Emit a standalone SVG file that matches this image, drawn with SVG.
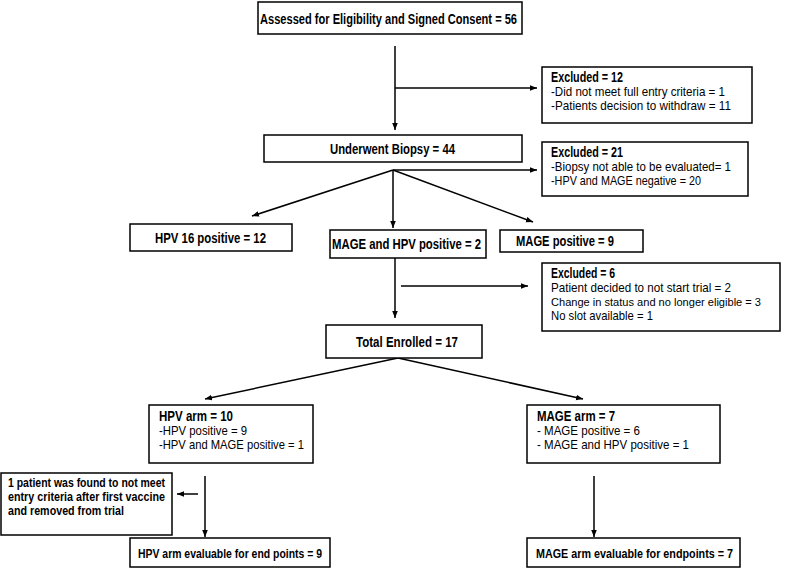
<svg xmlns="http://www.w3.org/2000/svg" width="787" height="570" viewBox="0 0 787 570">
<defs>
<style>
.box{fill:#fff;stroke:#000;stroke-width:1.5}
.t{font-family:"Liberation Sans Narrow","Liberation Sans",Arial,sans-serif;font-size:13.5px;fill:#000}
.b{font-weight:bold}
.h{font-size:14.5px}
.s{font-size:11.5px}
.ln{stroke:#000;stroke-width:1.5;fill:none}
</style>
<marker id="ah" viewBox="0 0 10 10" refX="10" refY="5" markerWidth="7" markerHeight="7" orient="auto" markerUnits="userSpaceOnUse">
<path d="M0,1 L10,5 L0,9 Z" fill="#000"/>
</marker>
</defs>
<rect width="787" height="570" fill="#fff"/>
<g id="connectors">
<line class="ln" x1="395" y1="46" x2="395" y2="130" marker-end="url(#ah)"/>
<line class="ln" x1="395" y1="88" x2="537" y2="88" marker-end="url(#ah)"/>
<line class="ln" x1="393" y1="170" x2="537" y2="170" marker-end="url(#ah)"/>
<line class="ln" x1="393" y1="170" x2="252" y2="216" marker-end="url(#ah)"/>
<line class="ln" x1="393" y1="170" x2="393" y2="228" marker-end="url(#ah)"/>
<line class="ln" x1="393" y1="170" x2="533" y2="222" marker-end="url(#ah)"/>
<line class="ln" x1="395" y1="258" x2="395" y2="318" marker-end="url(#ah)"/>
<line class="ln" x1="401" y1="286" x2="528" y2="286" marker-end="url(#ah)"/>
<line class="ln" x1="398" y1="358" x2="205" y2="399" marker-end="url(#ah)"/>
<line class="ln" x1="398" y1="358" x2="583" y2="399" marker-end="url(#ah)"/>
<line class="ln" x1="205" y1="476" x2="205" y2="537" marker-end="url(#ah)"/>
<line class="ln" x1="198" y1="494" x2="177" y2="494" marker-end="url(#ah)"/>
<line class="ln" x1="594" y1="476" x2="594" y2="537" marker-end="url(#ah)"/>
</g>
<g id="assessed">
<rect class="box" x="258" y="2" width="264" height="32"/>
<text class="t b h" x="260" y="24" textLength="257" lengthAdjust="spacingAndGlyphs">Assessed for Eligibility and Signed Consent = 56</text>
</g>
<g id="excluded12">
<rect class="box" x="542" y="67" width="210" height="56"/>
<text class="t b h" x="551" y="82" textLength="72" lengthAdjust="spacingAndGlyphs">Excluded = 12</text>
<text class="t" x="551" y="96" textLength="174" lengthAdjust="spacingAndGlyphs">-Did not meet full entry criteria = 1</text>
<text class="t" x="551" y="110" textLength="180" lengthAdjust="spacingAndGlyphs">-Patients decision to withdraw = 11</text>
</g>
<g id="biopsy">
<rect class="box" x="264" y="135" width="258" height="27"/>
<text class="t b h" x="330" y="154" textLength="125" lengthAdjust="spacingAndGlyphs">Underwent Biopsy = 44</text>
</g>
<g id="excluded21">
<rect class="box" x="542" y="142" width="206" height="54"/>
<text class="t b h" x="551" y="157" textLength="72" lengthAdjust="spacingAndGlyphs">Excluded = 21</text>
<text class="t" x="551" y="171" textLength="180" lengthAdjust="spacingAndGlyphs">-Biopsy not able to be evaluated= 1</text>
<text class="t" x="551" y="185" textLength="150" lengthAdjust="spacingAndGlyphs">-HPV and MAGE negative = 20</text>
</g>
<g id="hpv16">
<rect class="box" x="130" y="224" width="162" height="27"/>
<text class="t b h" x="155" y="243" textLength="111" lengthAdjust="spacingAndGlyphs">HPV 16 positive = 12</text>
</g>
<g id="mageandhpv">
<rect class="box" x="330" y="230" width="156" height="28"/>
<text class="t b h" x="332" y="249" textLength="149" lengthAdjust="spacingAndGlyphs">MAGE and HPV positive = 2</text>
</g>
<g id="magepos">
<rect class="box" x="500" y="230" width="143" height="22"/>
<text class="t b h" x="516" y="246" textLength="98" lengthAdjust="spacingAndGlyphs">MAGE positive = 9</text>
</g>
<g id="excluded6">
<rect class="box" x="542" y="263" width="238" height="68"/>
<text class="t b h" x="551" y="278" textLength="64" lengthAdjust="spacingAndGlyphs">Excluded = 6</text>
<text class="t" x="551" y="292" textLength="180" lengthAdjust="spacingAndGlyphs">Patient decided to not start trial = 2</text>
<text class="t s" x="551" y="306" textLength="210" lengthAdjust="spacingAndGlyphs">Change in status and no longer eligible = 3</text>
<text class="t" x="551" y="320" textLength="102" lengthAdjust="spacingAndGlyphs">No slot available = 1</text>
</g>
<g id="enrolled">
<rect class="box" x="326" y="325" width="156" height="33"/>
<text class="t b h" x="356" y="347" textLength="102" lengthAdjust="spacingAndGlyphs">Total Enrolled = 17</text>
</g>
<g id="hpvarm">
<rect class="box" x="149" y="405" width="164" height="58"/>
<text class="t b h" x="159" y="421" textLength="74" lengthAdjust="spacingAndGlyphs">HPV arm = 10</text>
<text class="t" x="159" y="435" textLength="88" lengthAdjust="spacingAndGlyphs">-HPV positive = 9</text>
<text class="t" x="159" y="449" textLength="145" lengthAdjust="spacingAndGlyphs">-HPV and MAGE positive = 1</text>
</g>
<g id="magearm">
<rect class="box" x="527" y="405" width="193" height="58"/>
<text class="t b h" x="537" y="421" textLength="78" lengthAdjust="spacingAndGlyphs">MAGE arm = 7</text>
<text class="t" x="537" y="435" textLength="103" lengthAdjust="spacingAndGlyphs">- MAGE positive = 6</text>
<text class="t" x="537" y="449" textLength="152" lengthAdjust="spacingAndGlyphs">- MAGE and HPV positive = 1</text>
</g>
<g id="removed">
<rect class="box" x="1" y="473" width="171" height="62"/>
<text class="t b" x="8" y="487" textLength="157" lengthAdjust="spacingAndGlyphs">1 patient was found to not meet</text>
<text class="t b" x="8" y="501" textLength="157" lengthAdjust="spacingAndGlyphs">entry criteria after first vaccine</text>
<text class="t b" x="8" y="515" textLength="116" lengthAdjust="spacingAndGlyphs">and removed from trial</text>
</g>
<g id="hpveval">
<rect class="box" x="130" y="538" width="200" height="29"/>
<text class="t b" x="138" y="558" textLength="184" lengthAdjust="spacingAndGlyphs">HPV arm evaluable for end points = 9</text>
</g>
<g id="mageeval">
<rect class="box" x="527" y="538" width="213" height="29"/>
<text class="t b" x="536" y="558" textLength="197" lengthAdjust="spacingAndGlyphs">MAGE arm evaluable for endpoints = 7</text>
</g>
</svg>
